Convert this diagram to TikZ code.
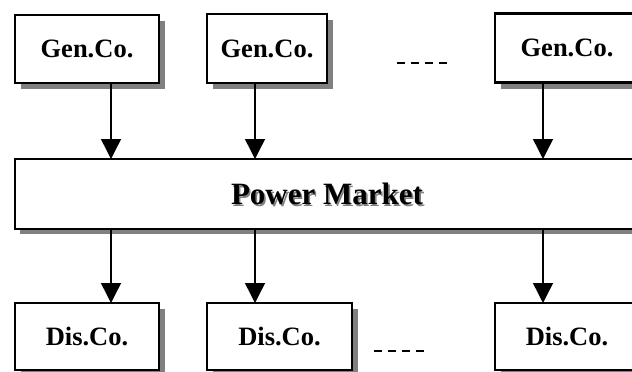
\documentclass[tikz,border=0pt]{standalone}
\usepackage{fontspec}
\setmainfont{Liberation Serif}
\usetikzlibrary{arrows.meta,shadows}
\definecolor{shadowgray}{gray}{0.5}
\tikzset{
  unitbox/.style={draw, line width=2.2pt, fill=white, inner sep=0pt, outer sep=0pt,
    font=\fontsize{26.5}{30}\selectfont\bfseries,
    general shadow={fill=shadowgray, shadow xshift=6pt, shadow yshift=-6pt}},
  marketbox/.style={draw, line width=2.6pt, fill=white, inner sep=0pt, outer sep=0pt,
    general shadow={fill=shadowgray, shadow xshift=5pt, shadow yshift=-5pt}},
  markettext/.style={inner sep=0pt, font=\fontsize{31}{34}\selectfont\bfseries},
  flow/.style={line width=1.4pt, -{Triangle[width=20pt,length=20pt]}},
  gap/.style={line width=1.4pt, dash pattern=on 8pt off 6pt},
}
\begin{document}
\begin{tikzpicture}[x=1pt,y=-1pt]
\useasboundingbox (0,0) rectangle (632,372);
\clip (0,0) rectangle (632,372);

% arrow columns
\coordinate (c1) at (111,0);
\coordinate (c2) at (255,0);
\coordinate (c3) at (543,0);

% generating companies
\node[unitbox, minimum width=144pt, minimum height=68pt] (g1) at (87,49) {Gen.Co.};
\node[unitbox, minimum width=120pt, minimum height=69pt] (g2) at (267,48.5) {Gen.Co.};
\node[unitbox, minimum width=144pt, minimum height=69pt] (g3) at (567,48) {Gen.Co.};

% market
\node[marketbox, minimum width=624pt, minimum height=70pt] (pm) at (327,194) {};
\node[markettext, text=shadowgray] (pmshade) at (328.6,195.6) {Power Market};
\node[markettext] (pmlabel) at (327,194) {Power Market};

% distribution companies
\node[unitbox, minimum width=144pt, minimum height=67pt] (d1) at (87,336.5) {Dis.Co.};
\node[unitbox, minimum width=145pt, minimum height=67pt] (d2) at (279.5,336.5) {Dis.Co.};
\node[unitbox, minimum width=144pt, minimum height=67pt] (d3) at (567,336.5) {Dis.Co.};

% flows
\draw[flow] (g1.south -| c1) -- (pm.north -| c1);
\draw[flow] (g2.south -| c2) -- (pm.north -| c2);
\draw[flow] (g3.south -| c3) -- (pm.north -| c3);
\draw[flow] (pm.south -| c1) -- (d1.north -| c1);
\draw[flow] (pm.south -| c2) -- (d2.north -| c2);
\draw[flow] (pm.south -| c3) -- (d3.north -| c3);

% ellipsis marks
\coordinate (ga) at (397,63);
\coordinate (gb) at (447,63);
\draw[gap] (ga) -- (gb);
\coordinate (da) at (374,351);
\coordinate (db) at (424,351);
\draw[gap] (da) -- (db);
\end{tikzpicture}
\end{document}
